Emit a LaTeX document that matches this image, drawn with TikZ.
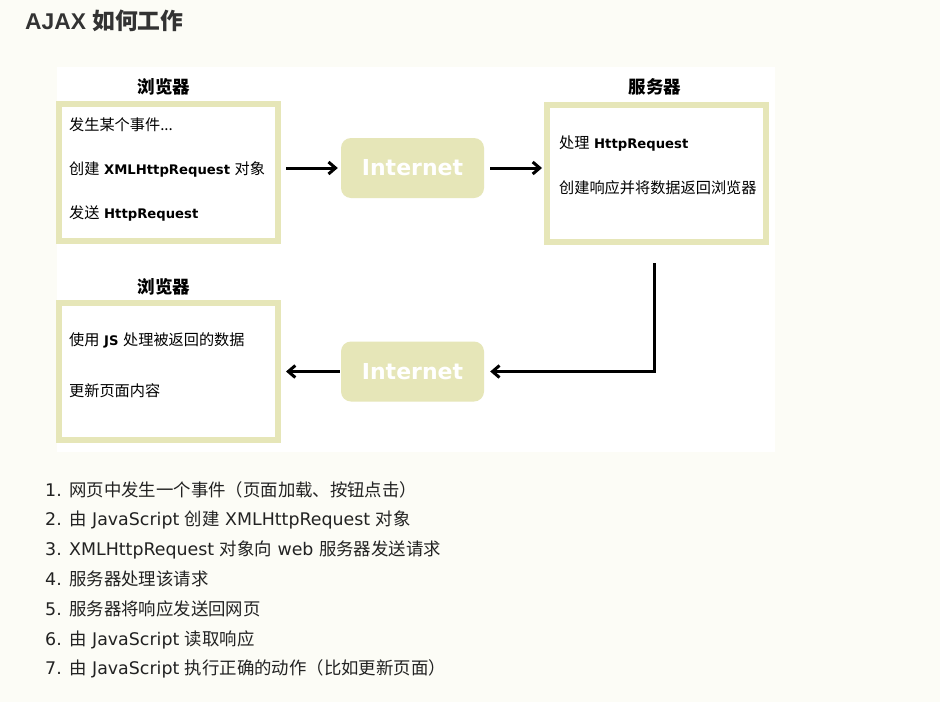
\documentclass[tikz,border=0pt]{standalone}
\usepackage{fontspec}
\setmainfont{DejaVu Sans}
\newfontfamily\cjk{Noto Sans CJK SC}
\newfontfamily\cjkbox{Noto Sans CJK SC}[Scale=1.15]
\newfontfamily\headfont{Liberation Sans}
\usetikzlibrary{arrows.meta}
\definecolor{PageCream}{HTML}{FCFCF6}
\definecolor{PaleKhaki}{HTML}{E6E6B8}
\definecolor{Ink}{HTML}{222222}
\definecolor{HeadGray}{HTML}{333333}
\newcommand{\zh}[1]{{\cjk #1}}
\newcommand{\zb}[1]{{\cjkbox\mdseries #1}}
\tikzset{
  panel/.style={draw=PaleKhaki, line width=6pt, fill=white, minimum width=219pt, minimum height=137pt, inner sep=0pt},
  boxlabel/.style={font=\cjk\bfseries\fontsize{17.5}{17.5}\selectfont, text=black, anchor=base, inner sep=0pt},
  boxtext/.style={font=\bfseries\fontsize{13.2}{16}\selectfont, text=black, anchor=base west, inner sep=0pt},
  netbox/.style={fill=PaleKhaki, rounded corners=10pt, minimum width=143pt, minimum height=60pt, text=white, font=\bfseries\fontsize{22}{22}\selectfont},
  flowarrow/.style={-{Straight Barb[length=7pt, width=12pt]}, line width=3pt, draw=black},
  steptext/.style={font=\fontsize{17.4}{20}\selectfont, text=Ink, anchor=base west, inner sep=0pt},
}

\begin{document}
\begin{tikzpicture}[x=1pt, y=-1pt]
    \useasboundingbox (0,0) rectangle (940,702);
    \fill[PageCream] (0,0) rectangle (940,702);
    \fill[white] (57,67) rectangle (775,452);
    \node[anchor=base west, inner sep=0pt, font=\headfont\bfseries\fontsize{22.8}{22.8}\selectfont, text=HeadGray] (title) at (25,29.5) {AJAX {\cjk 如何工作}};

    % browser sends the request
    \node[panel] (brwA) at (168.5,172.5) {};
    \node[boxlabel] (lblA) at (164,93.5) {浏览器};
    \node[boxtext] (a1) at (69,130) {\zb{发生某个事件...}};
    \node[boxtext] (a2) at (69,174) {\zb{创建} XMLHttpRequest \zb{对象}};
    \node[boxtext] (a3) at (69,218) {\zb{发送} HttpRequest};

    % server side
    \node[panel] (srv) at (656.5,173.5) {};
    \node[boxlabel] (lblS) at (655,93.5) {服务器};
    \node[boxtext] (s1) at (559,148) {\zb{处理} HttpRequest};
    \node[boxtext] (s2) at (559,193) {\zb{创建响应并将数据返回浏览器}};

    % browser gets the answer
    \node[panel] (brwB) at (168.5,371.5) {};
    \node[boxlabel] (lblB) at (164,293.5) {浏览器};
    \node[boxtext] (b1) at (69,345) {\zb{使用} JS \zb{处理被返回的数据}};
    \node[boxtext] (b2) at (69,396) {\zb{更新页面内容}};

    \node[netbox] (netA) at (412.5,168) {Internet};
    \node[netbox] (netB) at (412.5,371.5) {Internet};

    \draw[flowarrow, shorten <=5pt, shorten >=3pt] (brwA.east |- netA) -- (netA.west);
    \draw[flowarrow, shorten <=6pt, shorten >=2pt] (netA.east) -- (srv.west |- netA);
    \draw[flowarrow, shorten <=18pt, shorten >=6pt] ([xshift=-2.5pt]srv.south) |- (netB.east);
    \draw[flowarrow, shorten <=1pt, shorten >=5pt] (netB.west) -- (brwB.east |- netB);

    % the seven steps
    \node[steptext] (st1) at (45,496) {\makebox[24pt][l]{1.}\zh{网页中发生一个事件（页面加载、按钮点击）}};
    \node[steptext] (st2) at (45,525.8) {\makebox[24pt][l]{2.}\zh{由} JavaScript \zh{创建} XMLHttpRequest \zh{对象}};
    \node[steptext] (st3) at (45,555.6) {\makebox[24pt][l]{3.}XMLHttpRequest \zh{对象向} web \zh{服务器发送请求}};
    \node[steptext] (st4) at (45,585.4) {\makebox[24pt][l]{4.}\zh{服务器处理该请求}};
    \node[steptext] (st5) at (45,615.2) {\makebox[24pt][l]{5.}\zh{服务器将响应发送回网页}};
    \node[steptext] (st6) at (45,645) {\makebox[24pt][l]{6.}\zh{由} JavaScript \zh{读取响应}};
    \node[steptext] (st7) at (45,674.8) {\makebox[24pt][l]{7.}\zh{由} JavaScript \zh{执行正确的动作（比如更新页面）}};
\end{tikzpicture}
\end{document}
